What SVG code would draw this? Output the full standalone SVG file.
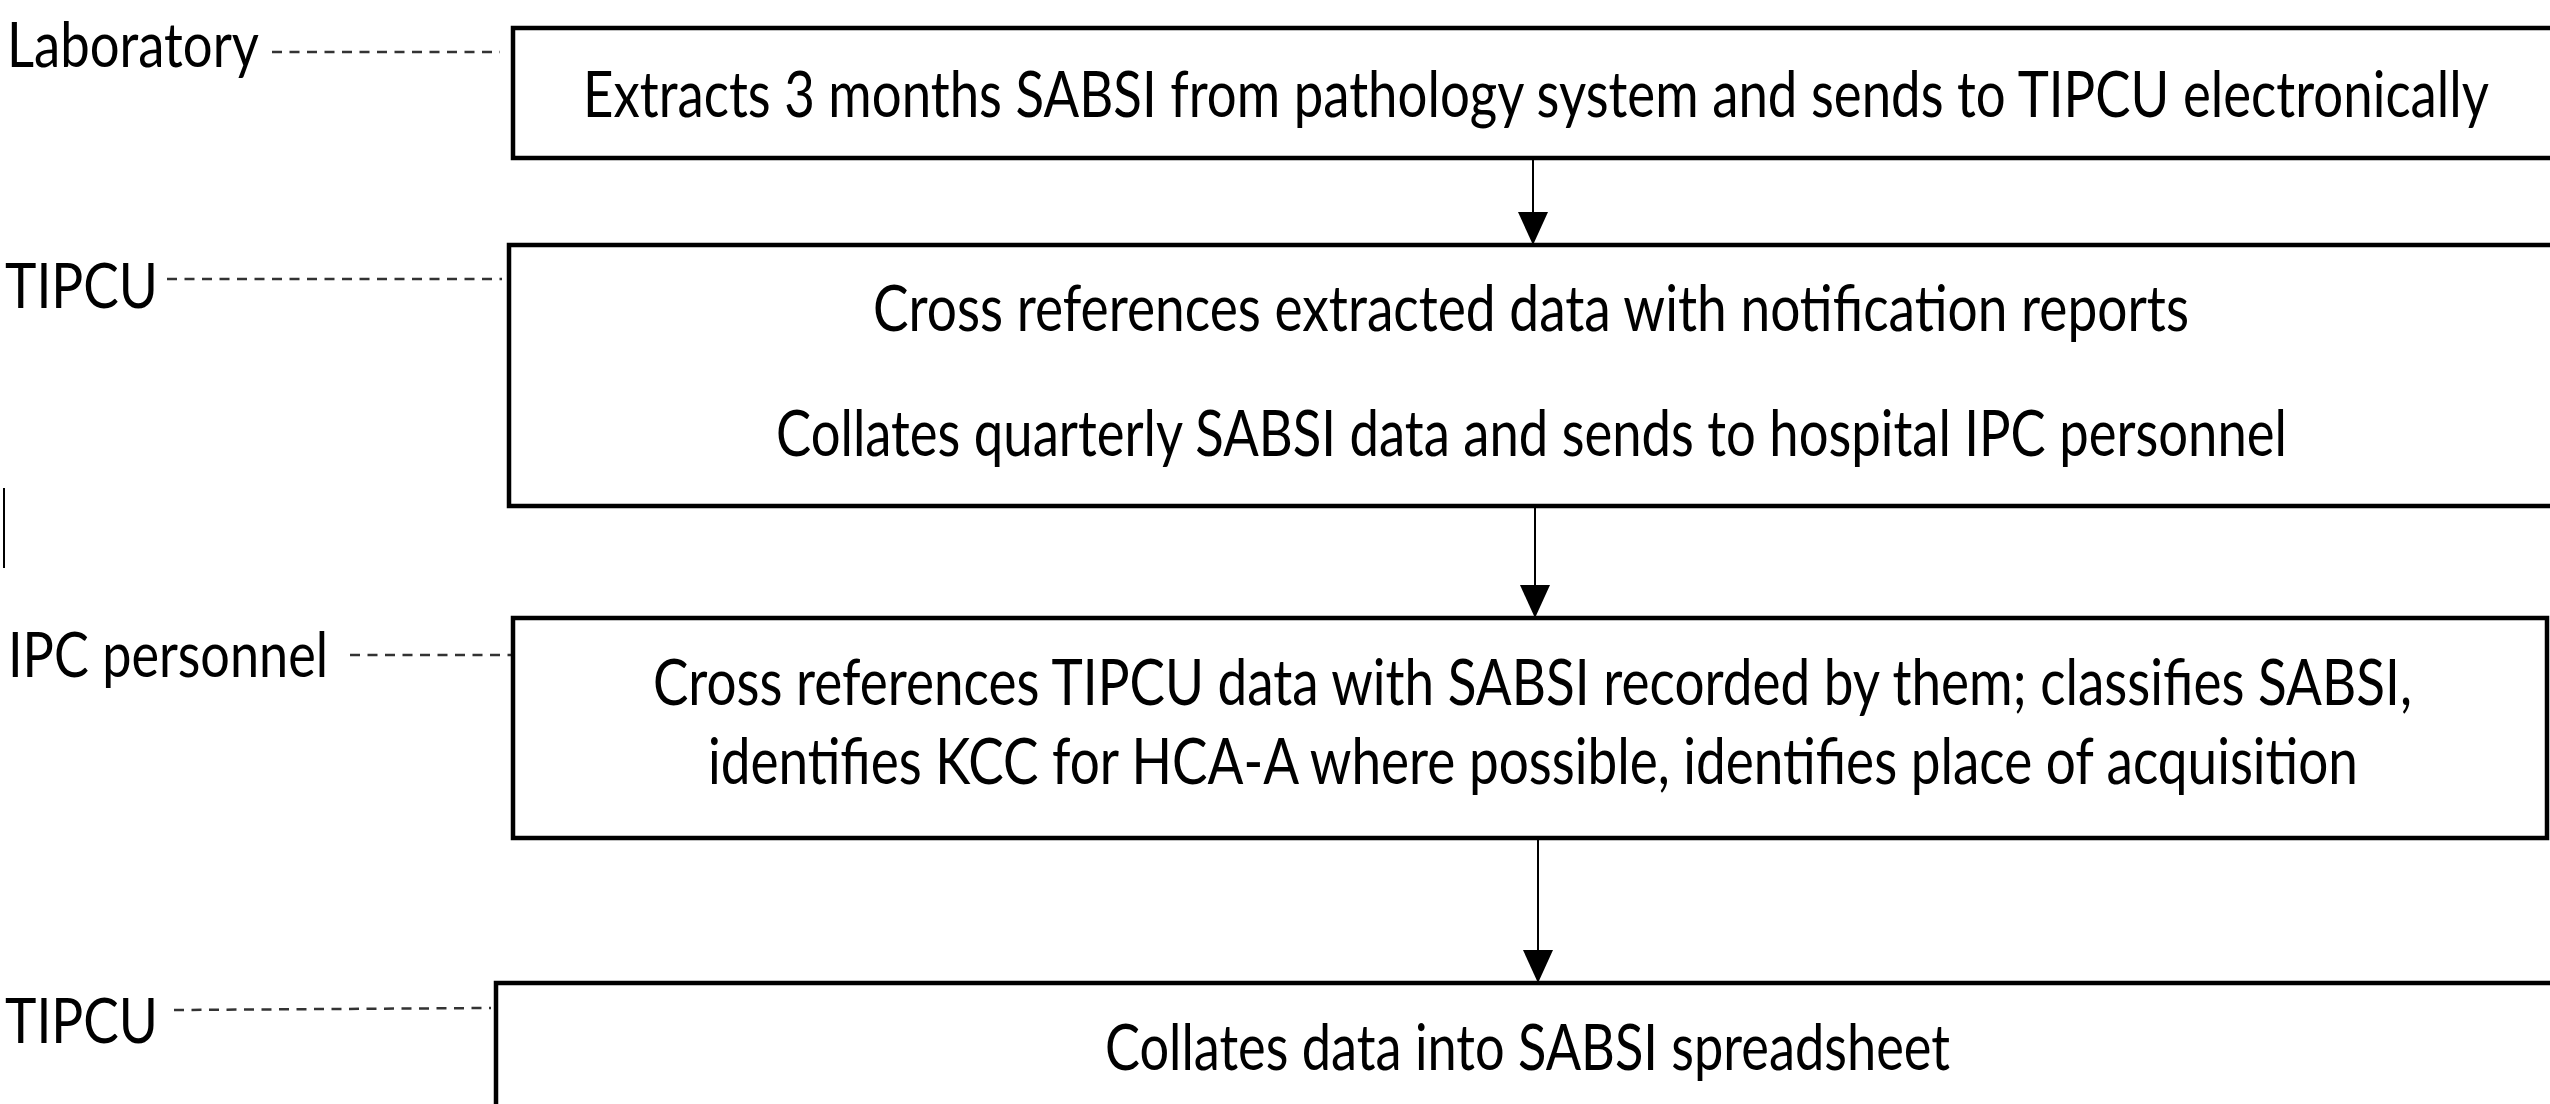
<svg xmlns="http://www.w3.org/2000/svg" width="2550" height="1104" viewBox="0 0 2550 1104">
  <style>
    .box { fill: #ffffff; stroke: #000000; stroke-width: 4.5; }
    .t { font-family: Lato, "Open Sans", "Liberation Sans", sans-serif; font-size: 64px; fill: #000000; }
    .lbl { font-family: Lato, "Open Sans", "Liberation Sans", sans-serif; font-size: 62px; fill: #000000; }
    .dash { stroke: #333333; stroke-width: 2.5; stroke-dasharray: 10 7.5; fill: none; }
    .arrow { stroke: #000000; stroke-width: 2; fill: none; marker-end: url(#head); }
  </style>
  <defs>
    <marker id="head" viewBox="0 0 33 30" refX="33" refY="15" markerWidth="33" markerHeight="30" markerUnits="userSpaceOnUse" orient="auto">
      <path d="M0,0 L33,15 L0,30 z" fill="#000000"/>
    </marker>
  </defs>
  <rect width="2550" height="1104" fill="#ffffff"/>

  <g id="labels">
    <g id="label-laboratory">
      <text class="lbl" x="7" y="67" textLength="252" lengthAdjust="spacingAndGlyphs">Laboratory</text>
      <line class="dash" x1="272" y1="52" x2="500" y2="52"/>
    </g>
    <g id="label-tipcu-1">
      <text class="lbl" x="5" y="308" textLength="153" lengthAdjust="spacingAndGlyphs">TIPCU</text>
      <line class="dash" x1="167" y1="279" x2="502" y2="279"/>
    </g>
    <g id="label-ipc">
      <text class="lbl" x="8" y="677" textLength="320" lengthAdjust="spacingAndGlyphs">IPC personnel</text>
      <line class="dash" x1="350" y1="655" x2="520" y2="655"/>
    </g>
    <g id="label-tipcu-2">
      <text class="lbl" x="5" y="1043" textLength="153" lengthAdjust="spacingAndGlyphs">TIPCU</text>
      <line class="dash" x1="174" y1="1010" x2="491" y2="1008"/>
    </g>
    <line x1="4" y1="488" x2="4" y2="568" stroke="#000000" stroke-width="2"/>
  </g>

  <g id="node-laboratory">
    <path class="box" d="M2550,28 H513 V158 H2550"/>
    <text class="t" transform="scale(0.72,1)" x="809.7" y="117" textLength="2647.2" lengthAdjust="spacingAndGlyphs">Extracts 3 months SABSI from pathology system and sends to TIPCU electronically</text>
  </g>

  <g id="node-tipcu-1">
    <path class="box" d="M2550,245 H509 V506 H2550"/>
    <text class="t" transform="scale(0.72,1)" x="1212.5" y="331" textLength="1827.8" lengthAdjust="spacingAndGlyphs">Cross references extracted data with notification reports</text>
    <text class="t" transform="scale(0.72,1)" x="1077.8" y="456" textLength="2098.6" lengthAdjust="spacingAndGlyphs">Collates quarterly SABSI data and sends to hospital IPC personnel</text>
  </g>

  <g id="node-ipc">
    <rect class="box" x="513" y="618" width="2034" height="220"/>
    <text class="t" transform="scale(0.72,1)" x="906.9" y="705" textLength="2443.1" lengthAdjust="spacingAndGlyphs">Cross references TIPCU data with SABSI recorded by them; classifies SABSI,</text>
    <text class="t" transform="scale(0.72,1)" x="983.3" y="784" textLength="2291.7" lengthAdjust="spacingAndGlyphs">identifies KCC for HCA-A where possible, identifies place of acquisition</text>
  </g>

  <g id="node-tipcu-2">
    <path class="box" d="M2550,983 H496 V1104"/>
    <text class="t" transform="scale(0.72,1)" x="1534.7" y="1070" textLength="1173.6" lengthAdjust="spacingAndGlyphs">Collates data into SABSI spreadsheet</text>
  </g>

  <g id="connectors">
    <line class="arrow" x1="1533" y1="160" x2="1533" y2="245"/>
    <line class="arrow" x1="1535" y1="508" x2="1535" y2="618"/>
    <line class="arrow" x1="1538" y1="840" x2="1538" y2="983"/>
  </g>
</svg>
